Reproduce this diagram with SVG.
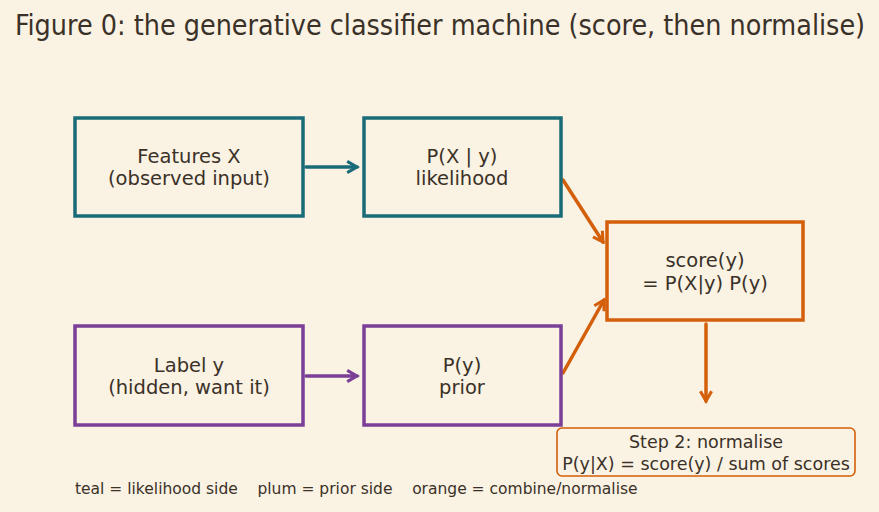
<svg xmlns="http://www.w3.org/2000/svg" width="879" height="512" viewBox="0 0 879 512">
<style>
text{font-family:"DejaVu Sans","Liberation Sans",sans-serif;fill:#3a3128;text-anchor:middle}
.n{font-size:19.5px}
.title{font-family:"DejaVu Sans Condensed","DejaVu Sans","Liberation Sans Narrow",sans-serif;font-stretch:condensed;font-size:28.4px}
.box{fill:#faf2e3;stroke-width:3.5}
.teal{stroke:#1a6b78}
.plum{stroke:#7b3f98}
.orng{stroke:#d35f0a}
.c{fill:none;stroke-width:3.5;stroke-linecap:round}
</style>
<defs>
<marker id="at" viewBox="0 0 10 10" refX="8" refY="5" markerWidth="4" markerHeight="4" orient="auto" markerUnits="strokeWidth"><path d="M1,1 L8,5 L1,9" fill="none" stroke="#1a6b78" stroke-width="2.2" stroke-linejoin="miter"/></marker>
<marker id="ap" viewBox="0 0 10 10" refX="8" refY="5" markerWidth="4" markerHeight="4" orient="auto" markerUnits="strokeWidth"><path d="M1,1 L8,5 L1,9" fill="none" stroke="#7b3f98" stroke-width="2.2"/></marker>
<marker id="ao" viewBox="0 0 10 10" refX="8" refY="5" markerWidth="4" markerHeight="4" orient="auto" markerUnits="strokeWidth"><path d="M1,1 L8,5 L1,9" fill="none" stroke="#d35f0a" stroke-width="2.2"/></marker>
</defs>
<rect width="879" height="512" fill="#faf2e3"/>
<text class="title" x="440" y="35">Figure 0: the generative classifier machine (score, then normalise)</text>
<g id="connectors">
<line class="c teal" x1="306" y1="167" x2="357" y2="167" marker-end="url(#at)"/>
<line class="c plum" x1="306" y1="376" x2="357" y2="376" marker-end="url(#ap)"/>
<line class="c orng" x1="563" y1="180" x2="603" y2="242" marker-end="url(#ao)"/>
<line class="c orng" x1="563" y1="373" x2="604" y2="300" marker-end="url(#ao)"/>
<line class="c orng" x1="706" y1="324" x2="706" y2="401" marker-end="url(#ao)"/>
</g>
<g id="features"><rect class="box teal" x="75" y="118" width="228" height="98"/><text class="n" x="189" y="163">Features X</text><text class="n" x="189" y="185">(observed input)</text></g>
<g id="likelihood"><rect class="box teal" x="364" y="118" width="197" height="98"/><text class="n" x="462" y="163">P(X | y)</text><text class="n" x="462" y="185">likelihood</text></g>
<g id="label"><rect class="box plum" x="75" y="326" width="228" height="99"/><text class="n" x="189" y="372">Label y</text><text class="n" x="189" y="394">(hidden, want it)</text></g>
<g id="prior"><rect class="box plum" x="364" y="326" width="197" height="99"/><text class="n" x="462" y="372">P(y)</text><text class="n" x="462" y="394">prior</text></g>
<g id="score"><rect class="box orng" x="607" y="222" width="196" height="98"/><text class="n" x="705" y="267">score(y)</text><text class="n" x="705" y="290">= P(X|y) P(y)</text></g>
<g id="normalise"><rect x="557" y="428" width="298" height="48" rx="5" fill="#faf2e3" stroke="#d35f0a" stroke-width="1.6"/><text x="706" y="448" font-size="17.5">Step 2: normalise</text><text x="706" y="470" font-size="17.5">P(y|X) = score(y) / sum of scores</text></g>
<text x="75" y="494" font-size="15.5" style="text-anchor:start" xml:space="preserve">teal = likelihood side    plum = prior side    orange = combine/normalise</text>
</svg>
